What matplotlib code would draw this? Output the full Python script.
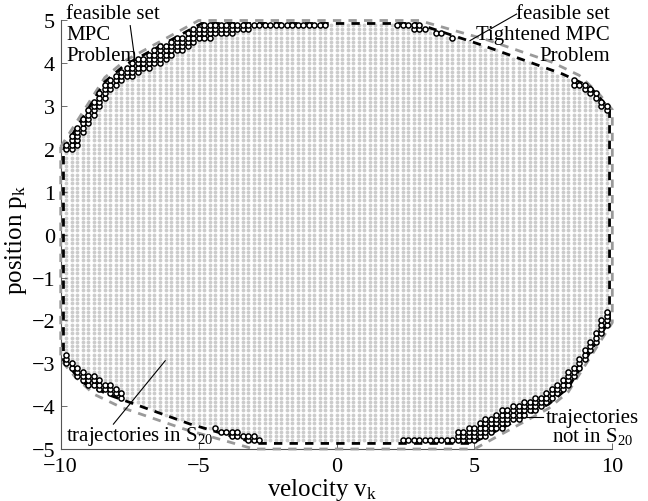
import numpy as np
import matplotlib

matplotlib.use("Agg")
import matplotlib.pyplot as plt
from matplotlib.path import Path


# sampled state grid (velocity step, position step)
V_LIMITS = (-10.0, 10.0)
P_LIMITS = (-5.0, 5.0)
V_STEP = 0.2
P_STEP = 0.1

# feasible set of the MPC problem (grey dashed)
mpc_v = [-10, -8.4, -7.7, -5.0, 3.0, 5.5, 7.8, 8.8, 9.5, 10, 10, 8.4, 7.7, 5.0,
         -3.0, -5.5, -7.8, -8.8, -9.5, -10]
mpc_p = [2.05, 3.67, 4.05, 5.0, 5.0, 4.54, 4.03, 3.72, 3.3, 2.92, -2.05, -3.67, -4.05, -5.0,
         -5.0, -4.54, -4.03, -3.72, -3.3, -2.92]

# feasible set of the tightened MPC problem (black dashed)
tight_v = [-9.9, -8.4, -7.7, -4.9, 2.9, 5.3, 8.2, 9.2, 9.9, 9.9, 8.4, 7.7, 4.9,
           -2.9, -5.3, -8.2, -9.2, -9.9]
tight_p = [2.0, 3.57, 3.95, 4.93, 4.93, 4.42, 3.75, 3.45, 2.93, -2.0, -3.57, -3.95, -4.87,
           -4.87, -4.42, -3.75, -3.45, -2.93]

# regions where the trajectories are not in S20 (circles)
band_a_v = [-0.4, -2.85, -3.5, -4.84, -5.31, -6.16, -7.13, -7.85, -8.39, -8.94, -9.48, -10.5, -10.5, -0.4]
band_a_p = [4.85, 4.85, 4.72, 4.55, 4.42, 4.05, 3.78, 3.55, 3.2, 2.65, 1.95, 1.95, 5.5, 5.5]
band_b1_v = [2.1, 3.35, 3.35, 2.1]
band_b1_p = [4.84, 4.74, 5.5, 5.5]
band_b2_v = [3.55, 4.3, 4.3, 3.55]
band_b2_p = [4.66, 4.56, 5.5, 5.5]
band_b3_v = [8.4, 9.2, 9.95, 10.5, 10.5, 8.4]
band_b3_p = [3.55, 3.28, 2.75, 2.75, 4.5, 4.5]
band_c1_v = [-10.5, -9.95, -9.2, -8.2, -7.8, -7.8, -10.5]
band_c1_p = [-2.7, -2.7, -3.15, -3.5, -3.62, -4.5, -4.5]
band_c2_v = [-4.45, -2.75, -2.75, -4.45]
band_c2_p = [-4.48, -4.72, -5.5, -5.5]
band_d_v = [2.3, 4.2, 4.36, 5.2, 6.05, 6.9, 7.62, 8.17, 8.71, 9.19, 9.5, 9.7, 10.5, 10.5, 2.3]
band_d_p = [-4.75, -4.75, -4.6, -4.35, -4.08, -3.85, -3.65, -3.35, -2.95, -2.5, -2.15, -1.72,
            -1.72, -5.5, -5.5]

x_ticks = [-10, -5, 0, 5, 10]
y_ticks = [-5, -4, -3, -2, -1, 0, 1, 2, 3, 4, 5]

FONT = "Liberation Serif"
FS_TEXT = 15
FS_TICK = 16
FS_LABEL = 18


def polygon(v, p):
    pts = np.column_stack([v + v[:1], p + p[:1]])
    return Path(pts, closed=True)


def main() -> None:
    plt.rcParams["font.family"] = [FONT, "DejaVu Serif"]
    plt.rcParams["mathtext.fontset"] = "custom"
    plt.rcParams["mathtext.rm"] = FONT
    plt.rcParams["mathtext.it"] = FONT + ":italic"

    gv, gp = np.meshgrid(
        np.arange(V_LIMITS[0], V_LIMITS[1] + 1e-9, V_STEP),
        np.arange(P_LIMITS[0], P_LIMITS[1] + 1e-9, P_STEP),
    )
    grid = np.column_stack([gv.ravel(), gp.ravel()])

    inside = polygon(tight_v, tight_p).contains_points(grid)
    bands = [
        (band_a_v, band_a_p), (band_b1_v, band_b1_p), (band_b2_v, band_b2_p),
        (band_b3_v, band_b3_p), (band_c1_v, band_c1_p), (band_c2_v, band_c2_p),
        (band_d_v, band_d_p),
    ]
    in_band = np.zeros(len(grid), dtype=bool)
    for bv, bp in bands:
        in_band |= polygon(bv, bp).contains_points(grid)

    good = grid[inside & ~in_band]
    bad = grid[inside & in_band]

    fig = plt.figure(figsize=(6.48, 5.02), dpi=100)
    ax = fig.add_axes([0.0937, 0.1036, 0.8512, 0.8536])

    ax.scatter(good[:, 0], good[:, 1], s=7.5, marker="o", color="#cccccc",
               linewidths=0, zorder=1)

    ax.plot(mpc_v + mpc_v[:1], mpc_p + mpc_p[:1], color="#9a9a9a", lw=2.0,
            dashes=(3, 2.6), clip_on=False, zorder=3)
    ax.plot(tight_v + tight_v[:1], tight_p + tight_p[:1], color="black", lw=2.0,
            dashes=(3, 2.6), clip_on=False, zorder=4)

    ax.plot(bad[:, 0], bad[:, 1], linestyle="none", marker="o", markersize=3.7,
            markerfacecolor="white", markeredgecolor="black", markeredgewidth=1.1,
            zorder=5)

    # annotations
    ax.text(-9.8, 5.38, "feasible set\nMPC\nProblem", ha="left", va="top",
            fontsize=FS_TEXT, linespacing=1.12, zorder=6)
    ax.plot([-7.48, -7.34], [4.88, 4.22], color="black", lw=0.8, zorder=6)

    ax.text(9.92, 5.38, "feasible set\nTightened MPC\nProblem", ha="right", va="top",
            multialignment="right", fontsize=FS_TEXT, linespacing=1.12, zorder=6)
    ax.plot([6.53, 4.84], [5.15, 4.53], color="black", lw=0.8, clip_on=False, zorder=6)

    ax.text(-9.8, -4.79, r"trajectories in S$_{20}$", ha="left", va="baseline",
            fontsize=FS_TEXT, zorder=6)
    ax.plot([-6.21, -8.09], [-2.94, -4.42], color="black", lw=0.8, zorder=6)

    ax.text(9.27, -4.37, "trajectories", ha="center", va="baseline", fontsize=FS_TEXT,
            clip_on=False, zorder=6)
    ax.text(9.27, -4.81, r"not in S$_{20}$", ha="center", va="baseline", fontsize=FS_TEXT,
            clip_on=False, zorder=6)
    ax.plot([6.9, 7.5], [-4.25, -4.25], color="black", lw=0.8, zorder=6)

    ax.set_xlim(*V_LIMITS)
    ax.set_ylim(*P_LIMITS)
    ax.set_xticks(x_ticks)
    ax.set_yticks(y_ticks)
    ax.tick_params(direction="in", length=4, width=0.6, color="#555555",
                   labelsize=FS_TICK)
    ax.tick_params(axis="x", pad=6)
    ax.tick_params(axis="y", pad=4)
    for side in ("top", "right"):
        ax.spines[side].set_visible(False)
    for side in ("left", "bottom"):
        ax.spines[side].set_color("#555555")
        ax.spines[side].set_linewidth(0.8)

    ax.set_xlabel(r"velocity v$_\mathrm{k}$", fontsize=FS_LABEL)
    ax.set_ylabel(r"position p$_\mathrm{k}$", fontsize=FS_LABEL)
    ax.xaxis.set_label_coords(0.473, -0.062)
    ax.yaxis.set_label_coords(-0.058, 0.49)

    fig.savefig("out.png", dpi=100)
    plt.close(fig)


if __name__ == "__main__":
    main()
